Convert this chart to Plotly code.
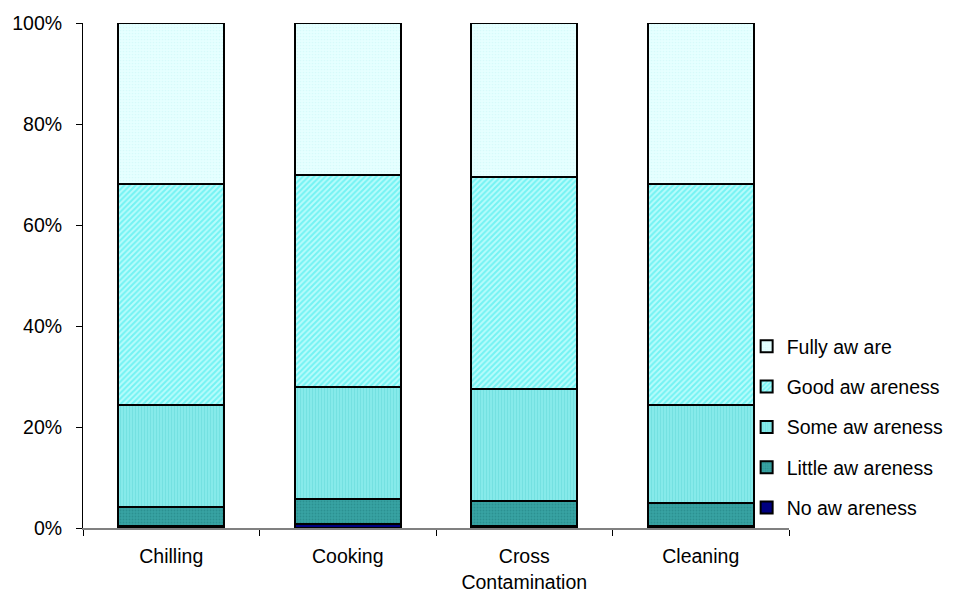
import plotly.graph_objects as go

categories = ["Chilling", "Cooking", "Cross<br>Contamination", "Cleaning"]
series_names = ["No aw areness", "Little aw areness", "Some aw areness", "Good aw areness", "Fully aw are"]
no_aw = [0.3, 0.8, 0.3, 0.3]
little_aw = [3.9, 4.9, 5.0, 4.7]
some_aw = [20.2, 22.2, 22.2, 19.4]
good_aw = [43.7, 42.0, 42.0, 43.7]
fully_aw = [31.9, 30.1, 30.5, 31.9]

series_values = [no_aw, little_aw, some_aw, good_aw, fully_aw]
styles = [
    dict(color="#000080", pattern=dict(shape="")),
    dict(color="#2E9A9A", pattern=dict(shape=".", fgcolor="#1E8080", bgcolor="#38A3A3", size=3, solidity=0.3)),
    dict(color="#80E8E8", pattern=dict(shape="|", fgcolor="#62D8D8", bgcolor="#86EAEA", size=3, solidity=0.35)),
    dict(color="#66F0F0", pattern=dict(shape="/", fgcolor="#2EEAEA", bgcolor="#B8FCFC", size=4, solidity=0.5)),
    dict(color="#E0FFFF", pattern=dict(shape=".", fgcolor="#C8F5F5", bgcolor="#E6FFFF", size=3, solidity=0.25)),
]

fig = go.Figure()
n = len(series_names)
for i, (name, vals, st) in enumerate(zip(series_names, series_values, styles)):
    fig.add_trace(go.Bar(
        x=categories, y=vals, name=name, legendgroup=name, legendrank=n - i,
        marker=dict(color=st["color"], pattern=st["pattern"], line=dict(color="#000000", width=2)),
        width=0.6,
    ))

fig.update_layout(
    barmode="stack",
    width=967, height=597,
    margin=dict(l=83, r=178, t=23, b=69),
    paper_bgcolor="white", plot_bgcolor="white",
    font=dict(family="Liberation Sans, Arial, sans-serif", size=19.5, color="#000000"),
    bargap=0.4,
    legend=dict(
        x=0.94, y=0.2, xanchor="left", yanchor="middle",
        traceorder="grouped", tracegroupgap=12,
        font=dict(size=19.5), bgcolor="rgba(255,255,255,0)",
        itemwidth=30,
    ),
    xaxis=dict(
        showline=True, linecolor="#808080", linewidth=2,
        ticks="outside", ticklen=6, tickcolor="#000000", tickson="boundaries",
        showgrid=False, ticklabelstandoff=10, automargin=False,
    ),
    yaxis=dict(
        range=[0, 100], tickvals=[0, 20, 40, 60, 80, 100],
        ticktext=["0%", "20%", "40%", "60%", "80%", "100%"],
        showline=True, linecolor="#000000", linewidth=1,
        ticks="outside", ticklen=6, tickcolor="#000000",
        showgrid=False, zeroline=False, ticklabelstandoff=10, automargin=False,
    ),
)

fig.write_html("out.html")
